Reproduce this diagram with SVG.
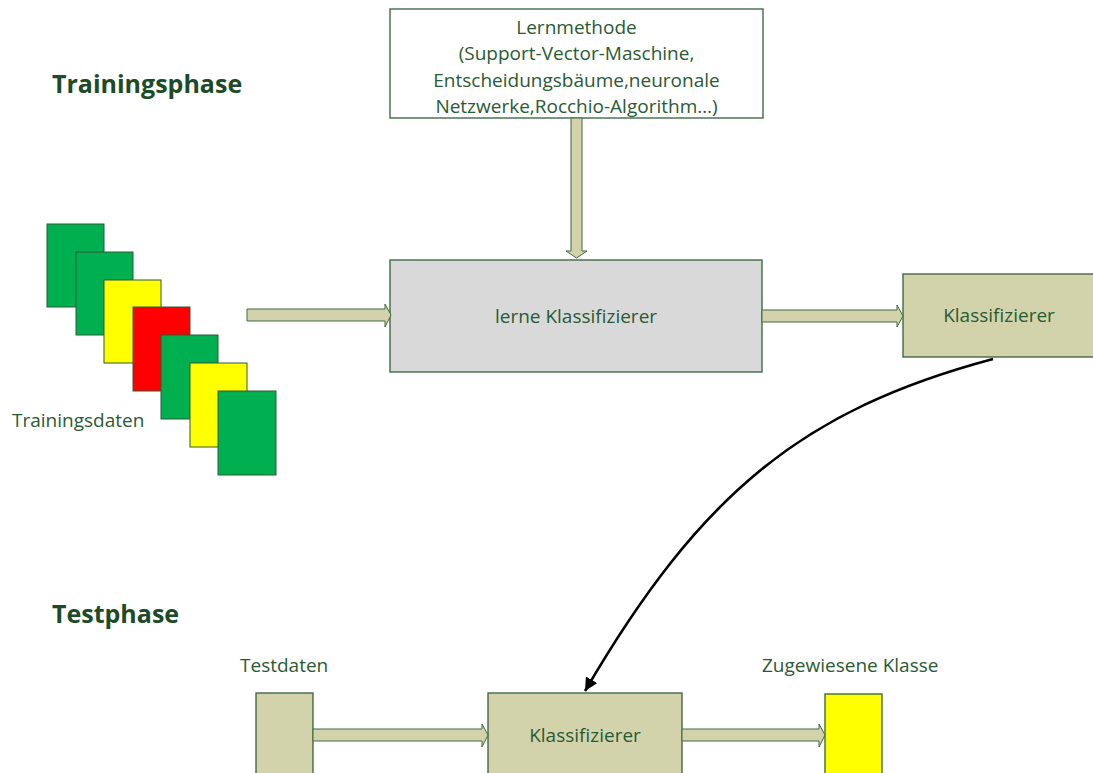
<svg xmlns="http://www.w3.org/2000/svg" width="1093" height="773" viewBox="0 0 1093 773">
<style>
.t{font-family:"Open Sans","Liberation Sans",sans-serif;font-size:19px;fill:#2a5a34}
.h{font-family:"Open Sans","Liberation Sans",sans-serif;font-size:25px;font-weight:bold;fill:#1d4a27}
.box{stroke:#33603a;stroke-width:1.3}
.tan{fill:#d3d3ab}
.card{stroke:#2f5a35;stroke-width:1}
.g{fill:#00b050}.y{fill:#ffff00}.r{fill:#ff0000}
.barrow{fill:#d3d3ab;stroke:#3f6a43;stroke-width:1}
</style>
<defs>
<marker id="ah" viewBox="0 0 10 10" refX="10" refY="5" markerWidth="5" markerHeight="5" markerUnits="strokeWidth" orient="auto">
<path d="M0,0 L10,5 L0,10 z" fill="#000"/>
</marker>
</defs>
<rect width="1093" height="773" fill="#fff"/>

<text class="h" x="52" y="93">Trainingsphase</text>
<text class="h" x="52" y="623">Testphase</text>

<g id="lernmethode">
<rect class="box" x="390" y="9" width="373" height="109" fill="#fff"/>
<text class="t" text-anchor="middle" x="576.5" y="33.5">Lernmethode</text>
<text class="t" text-anchor="middle" x="576.5" y="60">(Support-Vector-Maschine,</text>
<text class="t" text-anchor="middle" x="576.5" y="86.5">Entscheidungsbäume,neuronale</text>
<text class="t" text-anchor="middle" x="576.5" y="113">Netzwerke,Rocchio-Algorithm…)</text>
</g>

<g id="trainingsdaten">
<rect class="card g" x="47" y="224" width="57" height="83"/>
<rect class="card g" x="76" y="252" width="57" height="83"/>
<rect class="card y" x="104" y="280" width="57" height="83"/>
<rect class="card r" x="133" y="307" width="57" height="84"/>
<rect class="card g" x="161" y="335" width="57" height="84"/>
<rect class="card y" x="190" y="363" width="57" height="84"/>
<rect class="card g" x="218" y="391" width="58" height="84"/>
<text class="t" x="12" y="427">Trainingsdaten</text>
</g>

<g id="lerne">
<rect class="box" x="390" y="260" width="372" height="112" fill="#d9d9d9"/>
<text class="t" text-anchor="middle" x="576" y="323">lerne Klassifizierer</text>
</g>

<g id="klassifizierer1">
<rect class="box tan" x="903" y="274" width="196" height="83"/>
<text class="t" text-anchor="middle" x="999" y="322">Klassifizierer</text>
</g>

<g id="testdaten">
<text class="t" x="240" y="672">Testdaten</text>
<rect class="box tan" x="256" y="693" width="57" height="90"/>
</g>

<g id="klassifizierer2">
<rect class="box tan" x="488" y="693" width="194" height="90"/>
<text class="t" text-anchor="middle" x="585" y="742">Klassifizierer</text>
</g>

<g id="klasse">
<text class="t" x="762" y="672">Zugewiesene Klasse</text>
<rect class="box" x="825" y="694" width="57" height="90" fill="#ffff00"/>
</g>

<g id="connectors">
<polygon class="barrow" points="571,118 582,118 582,251 587,251 576.5,258 566,251 571,251"/>
<polygon class="barrow" points="247,309 385,309 385,304 391,315 385,327 385,321 247,321"/>
<polygon class="barrow" points="762,310 897,310 897,305 903,316 897,327 897,322 762,322"/>
<polygon class="barrow" points="313,729 482,729 482,724 488,735 482,747 482,741 313,741"/>
<polygon class="barrow" points="682,729 819,729 819,724 825,735 819,747 819,741 682,741"/>
<path d="M993,359 C802,410 700,494 585,691" fill="none" stroke="#000" stroke-width="2.6" marker-end="url(#ah)"/>
</g>
</svg>
